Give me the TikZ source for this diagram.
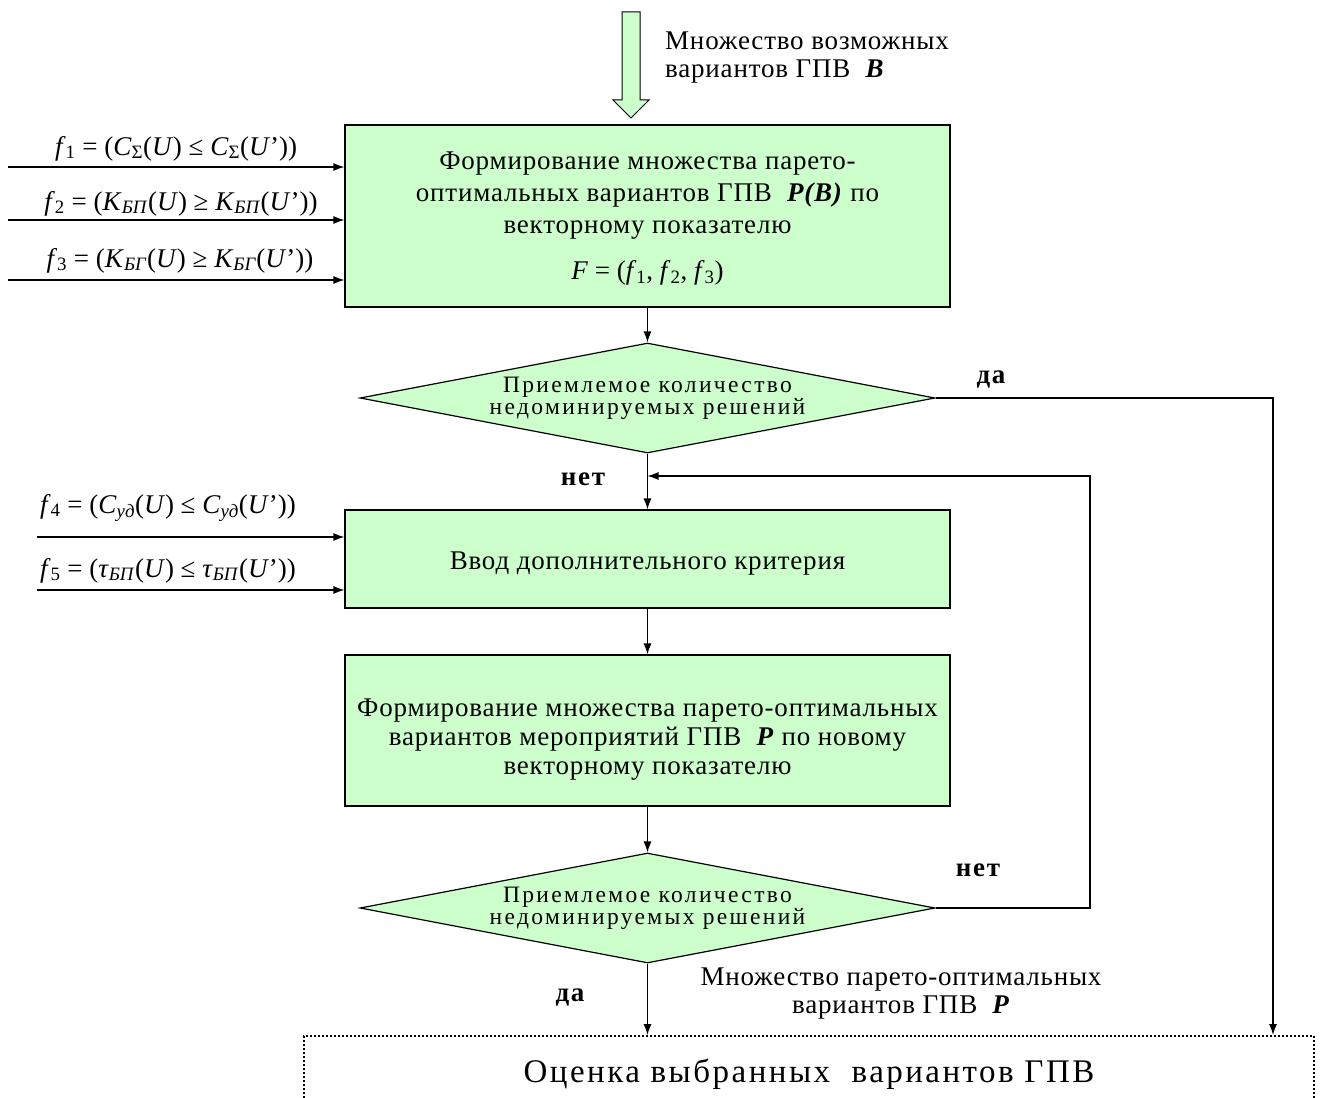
\documentclass[tikz,border=0pt]{standalone}
\usepackage{fontspec}
\setmainfont{Liberation Serif}
\newfontfamily\spaced[LetterSpace=3]{Liberation Serif}
\newfontfamily\wide[LetterSpace=6]{Liberation Serif}
\newfontfamily\wider[LetterSpace=7.5]{Liberation Serif}
\newfontfamily\dspaced[LetterSpace=10]{Liberation Serif}
\usetikzlibrary{shapes.geometric,arrows.meta}
\definecolor{boxgreen}{RGB}{204,255,204}
\tikzset{
  proc/.style={draw, fill=boxgreen, line width=1.2pt, minimum width=605pt, inner sep=0pt},
  ptext/.style={align=center, inner sep=0pt, font=\fontsize{27}{32}\selectfont\spaced},
  decide/.style={draw, fill=boxgreen, line width=1.2pt, shape=diamond, shape aspect=5.2, minimum width=575pt, minimum height=110pt, inner sep=0pt, align=center, font=\fontsize{23.5}{22}\selectfont\dspaced},
  arr/.style={line width=1.2pt, -{Latex[length=11pt,width=8pt]}},
  lbl/.style={font=\fontsize{27}{28}\selectfont\spaced, align=center, inner sep=0pt},
  formula/.style={font=\fontsize{27}{30}\selectfont, inner sep=0pt, anchor=base},
  yesno/.style={font=\fontsize{27}{30}\selectfont\wide\bfseries, inner sep=0pt},
}
\newcommand\sbs[1]{\textsubscript{#1}}
\begin{document}
\begin{tikzpicture}[x=1pt,y=-1pt]
\useasboundingbox (0,0) rectangle (1321,1097);
% top hollow arrow
\draw[fill=boxgreen, line width=1pt] (622,12) -- (640,12) -- (640,100) -- (649,100) -- (631,118) -- (613,100) -- (622,100) -- cycle;
\node[lbl, align=left, anchor=north west] (inB) at (665,32) {Множество возможных\\вариантов ГПВ \ \textbf{\textit{B}}};

\node[proc, minimum height=182pt] (box1) at (647.5,216) {};
\node[ptext] (t1) at (647.5,218.5) {Формирование множества парето-\\оптимальных вариантов ГПВ \ \textbf{\textit{P(B)}} по\\векторному показателю\\[14pt]{\rmfamily\textit{F} = (\textit{f}\sbs{1}, \textit{f}\sbs{2}, \textit{f}\sbs{3})}};

\node[decide] (d1) at (647.5,398) {Приемлемое количество\\недоминируемых решений};

\node[proc, minimum height=98pt] (box2) at (647.5,559) {};
\node[ptext] (t2) at (647.5,564) {Ввод дополнительного критерия};

\node[proc, minimum height=151pt] (box3) at (647.5,730.5) {};
\node[ptext, font=\fontsize{27}{29}\selectfont\spaced] (t3) at (647.5,739.5) {Формирование множества парето-оптимальных\\вариантов мероприятий ГПВ \ \textbf{\textit{P}} по новому\\векторному показателю};

\node[decide] (d2) at (647.5,908) {Приемлемое количество\\недоминируемых решений};

\node[draw, line width=2.2pt, dash pattern=on 2pt off 2pt, minimum width=1010pt, minimum height=76pt, anchor=north, inner sep=0pt, font=\fontsize{33}{36}\selectfont\wider] (eval) at (809,1035) {Оценка выбранных \ вариантов ГПВ};

% left inputs
\coordinate (s1) at (8,167);
\coordinate (s2) at (8,220);
\coordinate (s3) at (8,280);
\coordinate (s4) at (37,537);
\coordinate (s5) at (37,590);
\draw[arr] (s1) -- (s1 -| box1.west);
\draw[arr] (s2) -- (s2 -| box1.west);
\draw[arr] (s3) -- (s3 -| box1.west);
\draw[arr] (s4) -- (s4 -| box2.west);
\draw[arr] (s5) -- (s5 -| box2.west);
\node[formula] (f1) at (176,155) {\textit{f}\sbs{1} = (\textit{C}\sbs{Σ}(\textit{U}) ≤ \textit{C}\sbs{Σ}(\textit{U}'))};
\node[formula] (f2) at (181,210) {\textit{f}\sbs{2} = (\textit{K}\sbs{\textit{БП}}(\textit{U}) ≥ \textit{K}\sbs{\textit{БП}}(\textit{U}'))};
\node[formula] (f3) at (180,267) {\textit{f}\sbs{3} = (\textit{K}\sbs{\textit{БГ}}(\textit{U}) ≥ \textit{K}\sbs{\textit{БГ}}(\textit{U}'))};
\node[formula] (f4) at (168,513) {\textit{f}\sbs{4} = (\textit{C}\sbs{\textit{уд}}(\textit{U}) ≤ \textit{C}\sbs{\textit{уд}}(\textit{U}'))};
\node[formula] (f5) at (168,577) {\textit{f}\sbs{5} = (\textit{τ}\sbs{\textit{БП}}(\textit{U}) ≤ \textit{τ}\sbs{\textit{БП}}(\textit{U}'))};

% flow
\draw[arr] (box1.south) -- (d1.north);
\draw[arr] (d1.south) -- (box2.north);
\draw[arr] (box2.south) -- (box3.north);
\draw[arr] (box3.south) -- (d2.north);
\draw[arr] (d2.south) -- (d2.south |- eval.north);
\coordinate (rx) at (1273,398);
\draw[arr] (d1.east) -- (rx) -- (rx |- eval.north);
\coordinate (lx) at (1090,476);
\draw[arr] (d2.east) -| (lx) -- (lx -| box2.north);

\node[yesno] (yes1) at (991,380) {да};
\node[yesno] (no1) at (583,479) {нет};
\node[yesno] (no2) at (978,870) {нет};
\node[yesno] (yes2) at (570,997) {да};
\node[lbl] (outP) at (901,994) {Множество парето-оптимальных\\вариантов ГПВ \ \textbf{\textit{P}}};
\end{tikzpicture}
\end{document}
